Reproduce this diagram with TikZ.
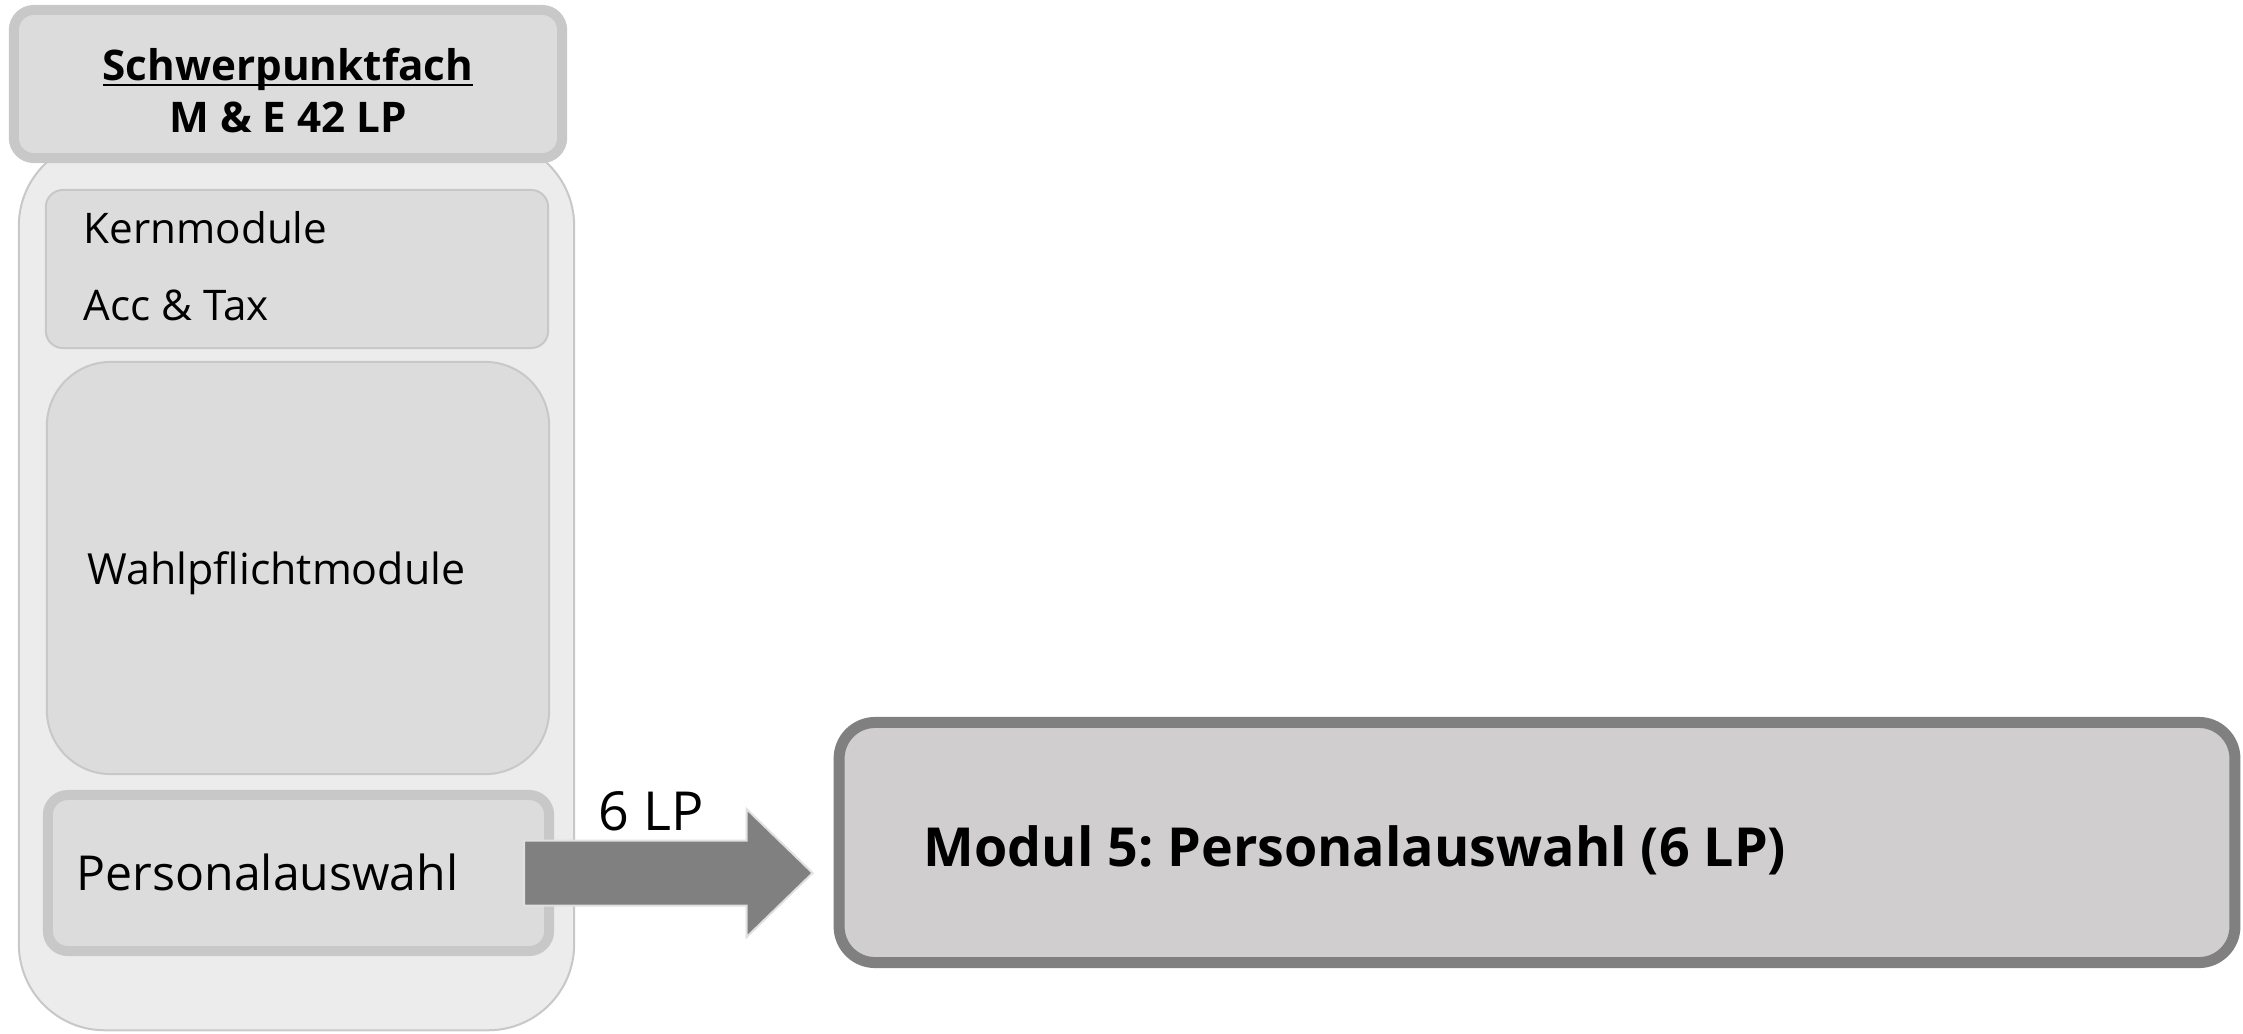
\documentclass[tikz,border=0pt]{standalone}
\usepackage{fontspec}
\setmainfont{Open Sans}
\usetikzlibrary{calc}
\frenchspacing
\definecolor{hdrborder}{HTML}{C8C8C8}
\definecolor{boxfill}{HTML}{DCDCDC}
\definecolor{contfill}{HTML}{ECECEC}
\definecolor{arrowgray}{HTML}{808080}
\definecolor{modfill}{HTML}{D0CECF}
\newcommand\myunderline[1]{\setbox0\hbox{#1}\rlap{\rule[-1.5pt]{\wd0}{0.5pt}}\box0}
\begin{document}
\begin{tikzpicture}[x=0.01cm,y=-0.01cm,
  px/.style={line width=#1*0.01cm},
  container/.style={draw=hdrborder,px=2,fill=contfill,rounded corners=0.86cm,minimum width=5.55cm,minimum height=8.9cm,inner sep=0pt},
  header/.style={draw=hdrborder,px=10,fill=boxfill,rounded corners=0.2cm,minimum width=5.48cm,minimum height=1.48cm,inner sep=0pt},
  htext/.style={inner sep=0pt,align=center,font=\fontsize{12}{14.8}\selectfont\bfseries},
  kbox/.style={draw=hdrborder,px=2,fill=boxfill,rounded corners=0.17cm,inner sep=0pt},
  wbox/.style={draw=hdrborder,px=2,fill=boxfill,rounded corners=0.64cm,inner sep=0pt},
  pbox/.style={draw=hdrborder,px=10,fill=boxfill,rounded corners=0.2cm,inner sep=0pt},
  mbox/.style={draw=arrowgray,px=11,fill=modfill,rounded corners=0.36cm,inner sep=0pt},
  lbl/.style={inner sep=0pt,font=\fontsize{12}{15}\selectfont},
  bigarrow/.style={fill=arrowgray,draw=white!88!black,px=2}
]
\useasboundingbox (0,0) rectangle (2243,1033);
% outer container
\node[container] (cont) at (296.5,585) {};
% header
\node[header] (hdr) at (288,84) {};
\node[htext] (hdrt) at (288,91) {\myunderline{Schwerpunktfach}\\M \& E 42 LP};
% Kernmodule
\node[kbox,minimum width=5.02cm,minimum height=1.58cm] (kern) at (297,269) {};
\node[lbl,anchor=west] (kt1) at (83,228) {Kernmodule};
\node[lbl,anchor=west] (kt2) at (83,305) {Acc \& Tax};
% Wahlpflichtmodule
\node[wbox,minimum width=5.02cm,minimum height=4.12cm] (wahl) at (298,568) {};
\node[lbl,anchor=west,font=\fontsize{12.2}{15}\selectfont] (wt) at (87,573) {Wahlpflichtmodule};
% Personalauswahl
\node[pbox,minimum width=5.01cm,minimum height=1.56cm] (pa) at (298.5,873) {};
\node[lbl,anchor=west,font=\fontsize{13.7}{16}\selectfont] (pt) at (76,872) {Personalauswahl};
% Modul 5
\node[mbox,minimum width=13.95cm,minimum height=2.40cm] (m5) at (1537,842.5) {};
\node[lbl,anchor=west,font=\fontsize{15.3}{18}\selectfont\bfseries] (mt) at (923,850) {Modul 5: Personalauswahl (6 LP)};
% arrow
\coordinate (as) at ([xshift=-0.30cm]pa.east);
\coordinate (ae) at ([xshift=-0.21cm]m5.west |- pa.east);
\draw[bigarrow] ($(as)+(0,-32.5)$) -- ($(ae)+(-66,-32.5)$) -- ($(ae)+(-66,-64)$) -- (ae)
  -- ($(ae)+(-66,64)$) -- ($(ae)+(-66,32.5)$) -- ($(as)+(0,32.5)$) -- cycle;
\node[lbl,font=\fontsize{15.3}{18}\selectfont] (six) at (651,811) {6 LP};
\end{tikzpicture}
\end{document}
